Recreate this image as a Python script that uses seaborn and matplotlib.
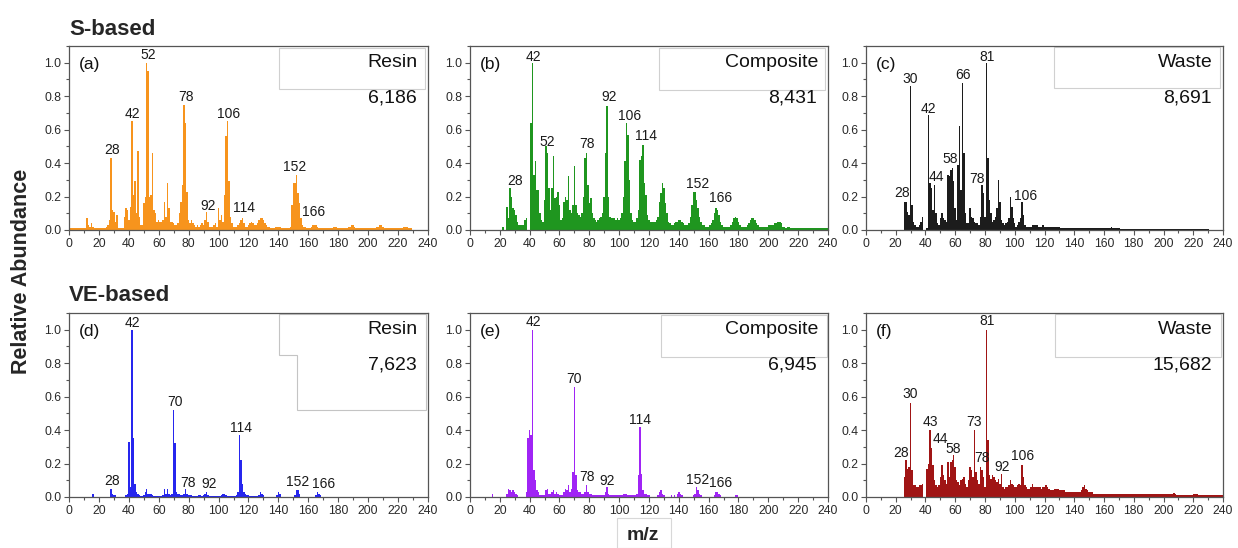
import numpy as np
import pandas as pd
import matplotlib
matplotlib.use("Agg")
import matplotlib.pyplot as plt
from matplotlib.patches import Polygon, Rectangle
from matplotlib.ticker import MultipleLocator, FormatStrFormatter
import seaborn as sns

# ---- spectra: relative abundance for each integer m/z, starting at *_start ----
# (a) S-based resin
a_start = 1
ab_a = [
    0.01, 0.01, 0.01, 0.01, 0.01, 0.01, 0.01, 0.01, 0.01, 0.01,
    0.01, 0.07, 0.03, 0.02, 0.04, 0.02, 0.01, 0.01, 0.01, 0.01,
    0.01, 0.01, 0.01, 0.01, 0.02, 0.03, 0.06, 0.43, 0.12, 0.11,
    0.05, 0.09, 0.01, 0.01, 0.01, 0.01, 0.08, 0.13, 0.12, 0.06,
    0.14, 0.65, 0.21, 0.29, 0.10, 0.47, 0.08, 0.03, 0.03, 0.16,
    0.20, 1.00, 0.95, 0.20, 0.21, 0.46, 0.12, 0.10, 0.05, 0.06,
    0.05, 0.05, 0.06, 0.17, 0.08, 0.28, 0.13, 0.05, 0.05, 0.04,
    0.03, 0.03, 0.04, 0.10, 0.17, 0.27, 0.75, 0.64, 0.23, 0.06,
    0.04, 0.06, 0.04, 0.03, 0.02, 0.03, 0.02, 0.03, 0.04, 0.03,
    0.06, 0.11, 0.05, 0.02, 0.02, 0.02, 0.03, 0.04, 0.02, 0.13,
    0.06, 0.09, 0.05, 0.21, 0.56, 0.65, 0.29, 0.08, 0.04, 0.02,
    0.02, 0.02, 0.03, 0.04, 0.06, 0.07, 0.04, 0.02, 0.02, 0.03,
    0.04, 0.05, 0.04, 0.03, 0.03, 0.04, 0.06, 0.07, 0.07, 0.06,
    0.04, 0.03, 0.02, 0.02, 0.01, 0.01, 0.01, 0.02, 0.02, 0.02,
    0.02, 0.01, 0.01, 0.01, 0.01, 0.01, 0.01, 0.02, 0.15, 0.28,
    0.28, 0.33, 0.22, 0.16, 0.07, 0.03, 0.02, 0.02, 0.01, 0.01,
    0.01, 0.02, 0.03, 0.03, 0.03, 0.02, 0.01, 0.01, 0.01, 0.01,
    0.01, 0.01, 0.01, 0.01, 0.01, 0.01, 0.02, 0.02, 0.02, 0.01,
    0.01, 0.01, 0.01, 0.01, 0.01, 0.01, 0.02, 0.02, 0.03, 0.03,
    0.02, 0.01, 0.01, 0.01, 0.01, 0.01, 0.01, 0.01, 0.01, 0.01,
    0.01, 0.01, 0.01, 0.01, 0.01, 0.02, 0.02, 0.03, 0.03, 0.02,
    0.01, 0.01, 0.01, 0.01, 0.01, 0.01, 0.01, 0.01, 0.01, 0.01,
    0.01, 0.01, 0.01, 0.02, 0.02, 0.02, 0.01, 0.01, 0.01,
]

# (b) S-based composite
b_start = 22
ab_b = [
    0.02, 0.00, 0.00, 0.14, 0.07, 0.25, 0.20, 0.13, 0.12, 0.09,
    0.05, 0.03, 0.03, 0.03, 0.03, 0.06, 0.07, 0.00, 0.00, 0.64,
    1.00, 0.33, 0.41, 0.24, 0.24, 0.10, 0.06, 0.05, 0.18, 0.50,
    0.46, 0.25, 0.12, 0.25, 0.44, 0.19, 0.20, 0.23, 0.15, 0.06,
    0.07, 0.17, 0.20, 0.18, 0.32, 0.12, 0.10, 0.15, 0.38, 0.15,
    0.10, 0.09, 0.08, 0.10, 0.20, 0.43, 0.46, 0.27, 0.16, 0.19,
    0.10, 0.07, 0.06, 0.05, 0.06, 0.07, 0.08, 0.10, 0.20, 0.46,
    0.74, 0.20, 0.08, 0.07, 0.07, 0.07, 0.06, 0.07, 0.06, 0.07,
    0.10, 0.20, 0.41, 0.64, 0.57, 0.30, 0.10, 0.06, 0.05, 0.05,
    0.07, 0.12, 0.42, 0.44, 0.51, 0.28, 0.21, 0.09, 0.06, 0.05,
    0.05, 0.05, 0.05, 0.06, 0.08, 0.17, 0.22, 0.28, 0.25, 0.16,
    0.10, 0.05, 0.04, 0.03, 0.03, 0.04, 0.05, 0.05, 0.06, 0.06,
    0.05, 0.04, 0.03, 0.03, 0.03, 0.04, 0.08, 0.15, 0.23, 0.23,
    0.18, 0.13, 0.08, 0.05, 0.03, 0.03, 0.02, 0.02, 0.02, 0.03,
    0.04, 0.06, 0.10, 0.13, 0.12, 0.09, 0.05, 0.03, 0.02, 0.02,
    0.02, 0.02, 0.02, 0.03, 0.05, 0.07, 0.08, 0.07, 0.05, 0.03,
    0.02, 0.02, 0.02, 0.02, 0.03, 0.04, 0.06, 0.07, 0.07, 0.06,
    0.04, 0.03, 0.02, 0.02, 0.02, 0.02, 0.02, 0.02, 0.03, 0.03,
    0.03, 0.03, 0.04, 0.04, 0.05, 0.05, 0.05, 0.04, 0.02, 0.02,
    0.01, 0.02, 0.02, 0.01, 0.01, 0.01, 0.01, 0.01, 0.01, 0.01,
    0.01, 0.01, 0.01, 0.01, 0.01, 0.01, 0.01, 0.01, 0.01, 0.01,
    0.01, 0.01, 0.01, 0.01, 0.01, 0.01, 0.01, 0.01, 0.01,
]

# (c) S-based waste
c_start = 26
ab_c = [
    0.17, 0.17, 0.11, 0.09, 0.86, 0.15, 0.05, 0.03, 0.02, 0.02,
    0.03, 0.05, 0.08, 0.00, 0.00, 0.01, 0.69, 0.28, 0.25, 0.12,
    0.27, 0.10, 0.04, 0.03, 0.07, 0.10, 0.07, 0.06, 0.05, 0.33,
    0.32, 0.36, 0.37, 0.29, 0.13, 0.06, 0.39, 0.62, 0.24, 0.88,
    0.46, 0.10, 0.04, 0.04, 0.13, 0.08, 0.07, 0.05, 0.04, 0.04,
    0.03, 0.08, 0.27, 0.22, 0.08, 1.00, 0.43, 0.18, 0.10, 0.05,
    0.06, 0.08, 0.13, 0.30, 0.17, 0.06, 0.04, 0.03, 0.04, 0.05,
    0.07, 0.20, 0.14, 0.07, 0.04, 0.02, 0.03, 0.05, 0.07, 0.17,
    0.09, 0.03, 0.02, 0.02, 0.02, 0.02, 0.03, 0.03, 0.03, 0.03,
    0.02, 0.02, 0.02, 0.03, 0.02, 0.02, 0.02, 0.02, 0.02, 0.02,
    0.02, 0.02, 0.02, 0.02, 0.02, 0.01, 0.01, 0.01, 0.01, 0.01,
    0.01, 0.01, 0.01, 0.01, 0.01, 0.01, 0.01, 0.01, 0.01, 0.01,
    0.01, 0.01, 0.01, 0.01, 0.01, 0.01, 0.01, 0.01, 0.01, 0.01,
    0.01, 0.01, 0.01, 0.01, 0.01, 0.01, 0.01, 0.01, 0.01, 0.015,
    0.01, 0.01, 0.01, 0.01, 0.01, 0.005, 0.005, 0.005, 0.005, 0.005,
    0.005, 0.005, 0.005, 0.005, 0.005, 0.005, 0.005, 0.005, 0.005, 0.005,
    0.005, 0.005, 0.005, 0.005, 0.005, 0.005, 0.005, 0.005, 0.005, 0.005,
    0.005, 0.005, 0.005, 0.005, 0.005, 0.005, 0.005, 0.005, 0.005, 0.005,
    0.005, 0.005, 0.005, 0.005, 0.005, 0.005, 0.005, 0.005, 0.005, 0.005,
    0.005, 0.005, 0.005, 0.005, 0.005, 0.005, 0.005, 0.005, 0.005, 0.005,
    0.005, 0.005, 0.005, 0.005, 0.005,
]

# (d) VE-based resin
d_start = 14
ab_d = [
    0.00, 0.00, 0.02, 0.00, 0.00, 0.00, 0.00, 0.00, 0.00, 0.00,
    0.00, 0.00, 0.00, 0.00, 0.05, 0.02, 0.01, 0.01, 0.00, 0.00,
    0.00, 0.00, 0.00, 0.00, 0.01, 0.02, 0.33, 0.06, 1.00, 0.35,
    0.08, 0.03, 0.02, 0.01, 0.005, 0.005, 0.01, 0.03, 0.05, 0.02,
    0.02, 0.02, 0.01, 0.005, 0.005, 0.005, 0.005, 0.005, 0.005, 0.01,
    0.05, 0.02, 0.05, 0.02, 0.01, 0.02, 0.52, 0.32, 0.03, 0.02,
    0.02, 0.01, 0.01, 0.02, 0.05, 0.02, 0.01, 0.01, 0.01, 0.005,
    0.005, 0.005, 0.005, 0.01, 0.01, 0.005, 0.01, 0.02, 0.03, 0.01,
    0.005, 0.005, 0.005, 0.005, 0.005, 0.005, 0.005, 0.005, 0.01, 0.02,
    0.02, 0.01, 0.005, 0.005, 0.005, 0.005, 0.005, 0.005, 0.01, 0.03,
    0.37, 0.22, 0.08, 0.03, 0.02, 0.01, 0.01, 0.005, 0.005, 0.005,
    0.005, 0.005, 0.005, 0.01, 0.03, 0.02, 0.01, 0.00, 0.00, 0.00,
    0.00, 0.00, 0.00, 0.00, 0.00, 0.01, 0.03, 0.02, 0.00, 0.00,
    0.00, 0.00, 0.00, 0.00, 0.00, 0.00, 0.00, 0.01, 0.04, 0.04,
    0.02, 0.00, 0.00, 0.00, 0.00, 0.00, 0.00, 0.00, 0.00, 0.00,
    0.00, 0.01, 0.03, 0.02, 0.01, 0.00, 0.00,
]

# (e) VE-based composite
e_start = 14
ab_e = [
    0.00, 0.02, 0.00, 0.00, 0.00, 0.00, 0.00, 0.00, 0.00, 0.00,
    0.00, 0.02, 0.05, 0.04, 0.03, 0.04, 0.03, 0.02, 0.01, 0.00,
    0.00, 0.00, 0.00, 0.00, 0.03, 0.35, 0.40, 0.37, 1.00, 0.16,
    0.10, 0.04, 0.03, 0.01, 0.01, 0.01, 0.01, 0.04, 0.05, 0.02,
    0.02, 0.03, 0.04, 0.02, 0.03, 0.02, 0.01, 0.01, 0.01, 0.03,
    0.05, 0.04, 0.07, 0.03, 0.05, 0.15, 0.66, 0.13, 0.04, 0.03,
    0.03, 0.02, 0.02, 0.03, 0.07, 0.03, 0.02, 0.02, 0.01, 0.01,
    0.01, 0.01, 0.01, 0.01, 0.01, 0.01, 0.01, 0.03, 0.06, 0.02,
    0.01, 0.01, 0.01, 0.01, 0.01, 0.01, 0.01, 0.01, 0.01, 0.02,
    0.02, 0.02, 0.01, 0.01, 0.01, 0.01, 0.01, 0.01, 0.02, 0.13,
    0.42, 0.14, 0.04, 0.02, 0.02, 0.01, 0.01, 0.00, 0.00, 0.00,
    0.00, 0.00, 0.01, 0.03, 0.04, 0.02, 0.01, 0.00, 0.00, 0.00,
    0.00, 0.01, 0.00, 0.01, 0.00, 0.02, 0.03, 0.02, 0.01, 0.00,
    0.00, 0.00, 0.00, 0.00, 0.00, 0.00, 0.01, 0.02, 0.06, 0.04,
    0.02, 0.01, 0.00, 0.00, 0.00, 0.00, 0.00, 0.00, 0.00, 0.00,
    0.01, 0.03, 0.03, 0.02, 0.01, 0.00, 0.00, 0.00, 0.00, 0.00,
    0.00, 0.00, 0.00, 0.00, 0.01, 0.01, 0.00,
]

# (f) VE-based waste
f_start = 0
ab_f = [
    0.01, 0.00, 0.00, 0.00, 0.00, 0.00, 0.00, 0.00, 0.00, 0.00,
    0.00, 0.00, 0.00, 0.00, 0.00, 0.00, 0.00, 0.00, 0.00, 0.00,
    0.00, 0.00, 0.00, 0.00, 0.00, 0.00, 0.12, 0.22, 0.17, 0.18,
    0.56, 0.16, 0.07, 0.07, 0.06, 0.06, 0.07, 0.07, 0.08, 0.00,
    0.00, 0.17, 0.20, 0.40, 0.29, 0.19, 0.10, 0.07, 0.06, 0.07,
    0.12, 0.19, 0.13, 0.10, 0.08, 0.21, 0.12, 0.21, 0.22, 0.25,
    0.18, 0.10, 0.09, 0.07, 0.10, 0.11, 0.12, 0.08, 0.06, 0.10,
    0.18, 0.16, 0.12, 0.40, 0.15, 0.10, 0.08, 0.18, 0.16, 0.12,
    0.06, 1.00, 0.34, 0.13, 0.11, 0.13, 0.12, 0.10, 0.09, 0.11,
    0.08, 0.14, 0.06, 0.05, 0.06, 0.06, 0.07, 0.10, 0.08, 0.07,
    0.06, 0.06, 0.07, 0.08, 0.07, 0.19, 0.12, 0.07, 0.06, 0.05,
    0.05, 0.06, 0.08, 0.06, 0.06, 0.06, 0.06, 0.06, 0.05, 0.06,
    0.06, 0.07, 0.06, 0.05, 0.04, 0.04, 0.04, 0.05, 0.05, 0.05,
    0.04, 0.04, 0.04, 0.04, 0.03, 0.03, 0.03, 0.03, 0.03, 0.03,
    0.03, 0.03, 0.03, 0.03, 0.03, 0.04, 0.06, 0.07, 0.05, 0.04,
    0.03, 0.03, 0.03, 0.02, 0.02, 0.02, 0.02, 0.02, 0.02, 0.02,
    0.02, 0.02, 0.02, 0.02, 0.02, 0.02, 0.02, 0.02, 0.02, 0.02,
    0.02, 0.015, 0.015, 0.015, 0.015, 0.015, 0.015, 0.015, 0.015, 0.015,
    0.015, 0.015, 0.015, 0.015, 0.015, 0.015, 0.015, 0.015, 0.015, 0.015,
    0.015, 0.015, 0.015, 0.015, 0.015, 0.015, 0.015, 0.015, 0.015, 0.015,
    0.015, 0.015, 0.015, 0.015, 0.015, 0.015, 0.02, 0.025, 0.02, 0.01,
    0.01, 0.01, 0.01, 0.01, 0.01, 0.01, 0.01, 0.01, 0.01, 0.01,
    0.02, 0.02, 0.02, 0.015, 0.01, 0.01, 0.01, 0.01, 0.01, 0.01,
    0.01, 0.01, 0.01, 0.01, 0.01, 0.01, 0.01, 0.01, 0.01, 0.01, 0.01,
]

sample_names = ["Resin", "Composite", "Waste", "Resin", "Composite", "Waste"]
total_counts = ["6,186", "8,431", "8,691", "7,623", "6,945", "15,682"]
panel_letters = ["(a)", "(b)", "(c)", "(d)", "(e)", "(f)"]

# peak annotations: (text, m/z position of the label, label baseline height)
peaks_a = [("28", 28.6, 0.455), ("42", 42.7, 0.67), ("52", 52.7, 1.02), ("78", 78.2, 0.77),
           ("92", 92.7, 0.12), ("106", 106.6, 0.67), ("114", 116.9, 0.11), ("152", 150.8, 0.35),
           ("166", 163.8, 0.084)]
peaks_b = [("28", 30.2, 0.27), ("42", 42.5, 1.01), ("52", 52.1, 0.50), ("78", 78.2, 0.49),
           ("92", 93.2, 0.77), ("106", 106.8, 0.66), ("114", 118.0, 0.54), ("152", 152.4, 0.25),
           ("166", 168.3, 0.166)]
peaks_c = [("28", 24.0, 0.196), ("30", 30.0, 0.88), ("42", 42.1, 0.70), ("44", 47.5, 0.295),
           ("58", 56.9, 0.40), ("66", 65.0, 0.90), ("78", 74.8, 0.28), ("81", 81.1, 1.01),
           ("106", 107.6, 0.18)]
peaks_d = [("28", 28.6, 0.072), ("42", 42.7, 1.016), ("70", 71.1, 0.545), ("78", 79.6, 0.058),
           ("92", 93.4, 0.052), ("114", 115.1, 0.39), ("152", 152.6, 0.068), ("166", 170.5, 0.052)]
peaks_e = [("42", 42.5, 1.02), ("70", 69.9, 0.68), ("78", 78.2, 0.096), ("92", 92.1, 0.072),
           ("114", 114.0, 0.437), ("152", 152.6, 0.076), ("166", 168.3, 0.062)]
peaks_f = [("28", 23.3, 0.24), ("30", 30.0, 0.59), ("43", 43.0, 0.427), ("44", 49.7, 0.32),
           ("58", 58.7, 0.26), ("73", 72.8, 0.427), ("78", 77.8, 0.21), ("81", 81.1, 1.026),
           ("92", 91.6, 0.157), ("106", 105.1, 0.22)]

spectra = [(a_start, ab_a), (b_start, ab_b), (c_start, ab_c),
           (d_start, ab_d), (e_start, ab_e), (f_start, ab_f)]
peak_sets = [peaks_a, peaks_b, peaks_c, peaks_d, peaks_e, peaks_f]
colors = ["#f7941d", "#1f961f", "#1c1c1c", "#2626ee", "#a024f5", "#a01515"]

# ---- layout ----
sns.set_style("ticks")
plt.rcParams['font.family'] = ['Liberation Sans', 'DejaVu Sans']

fig = plt.figure(figsize=(12.38, 5.48), dpi=100)

col_left = [0.0557, 0.3796, 0.6995]
col_width = [0.2900, 0.2892, 0.2884]
row_bottom = [0.5803, 0.0931]
ax_height = 0.3358

# legend-like boxes in axes coords (x0, y0, x1, y1); panel (d) is an odd step shape
boxes = [(0.585, 0.766, 0.992, 0.989), (0.529, 0.761, 0.993, 0.9875), (0.527, 0.770, 0.992, 0.993),
         None, (0.533, 0.759, 0.997, 0.989), (0.530, 0.7625, 0.994, 0.993)]
box_d = [(0.584, 0.993), (0.584, 0.772), (0.636, 0.772), (0.636, 0.473),
         (0.994, 0.473), (0.994, 0.993)]

frame_col = "#555555"

for i in range(6):
    r, c = divmod(i, 3)
    ax = fig.add_axes([col_left[c], row_bottom[r], col_width[c], ax_height])
    start, vals = spectra[i]
    df = pd.DataFrame({"mz": np.arange(start, start + len(vals)), "ab": vals})
    sns.barplot(data=df, x="mz", y="ab", native_scale=True, color=colors[i],
                saturation=1, width=1.0, linewidth=0, errorbar=None, ax=ax)

    ax.set_xlim(0, 240)
    ax.set_ylim(0, 1.1)
    ax.xaxis.set_major_locator(MultipleLocator(20))
    ax.xaxis.set_minor_locator(MultipleLocator(10))
    ax.yaxis.set_major_locator(MultipleLocator(0.2))
    ax.yaxis.set_minor_locator(MultipleLocator(0.1))
    ax.yaxis.set_major_formatter(FormatStrFormatter("%.1f"))
    ax.set_xlabel("")
    ax.set_ylabel("")
    for sp in ax.spines.values():
        sp.set_color(frame_col)
        sp.set_linewidth(0.9)
    ax.tick_params(which="both", direction="out", color=frame_col, width=0.8,
                   labelsize=8.8, labelcolor="#2a2a2a", pad=2)
    ax.tick_params(which="major", length=3.5)
    ax.tick_params(which="minor", length=2)

    for txt, x, y in peak_sets[i]:
        ax.text(x, y, txt, ha="center", va="baseline", fontsize=10, color="#1a1a1a")

    if boxes[i] is None:
        ax.add_patch(Polygon(box_d, closed=True, fill=False, edgecolor="#c4c4c4",
                             linewidth=0.8, transform=ax.transAxes, clip_on=False))
    else:
        x0, y0, x1, y1 = boxes[i]
        ax.add_patch(Rectangle((x0, y0), x1 - x0, y1 - y0, fill=False, edgecolor="#d0d0d0",
                               linewidth=0.8, transform=ax.transAxes, clip_on=False))

    ax.text(0.972, 0.911, sample_names[i], transform=ax.transAxes, ha="right",
            va="center", fontsize=14, color="#111111")
    ax.text(0.969, 0.718, total_counts[i], transform=ax.transAxes, ha="right",
            va="center", fontsize=14, color="#111111")
    ax.text(0.028, 0.897, panel_letters[i], transform=ax.transAxes, ha="left",
            va="center", fontsize=12.5, color="#111111")

fig.text(0.0557, 0.937, "S-based", fontsize=16, fontweight="bold", va="baseline", ha="left")
fig.text(0.0557, 0.4513, "VE-based", fontsize=16, fontweight="bold", va="baseline", ha="left")
fig.text(0.017, 0.5055, "Relative Abundance", fontsize=15.5, fontweight="bold",
         rotation=90, ha="center", va="center")
fig.text(0.519, 0.0237, "m/z", fontsize=14, fontweight="bold", ha="center", va="center")
fig.patches.append(Rectangle((617 / 1238, 0.0), 54 / 1238, 30 / 548, fill=False,
                             edgecolor="#d8d8d8", linewidth=0.8, transform=fig.transFigure))

fig.savefig("out.png", dpi=100)
